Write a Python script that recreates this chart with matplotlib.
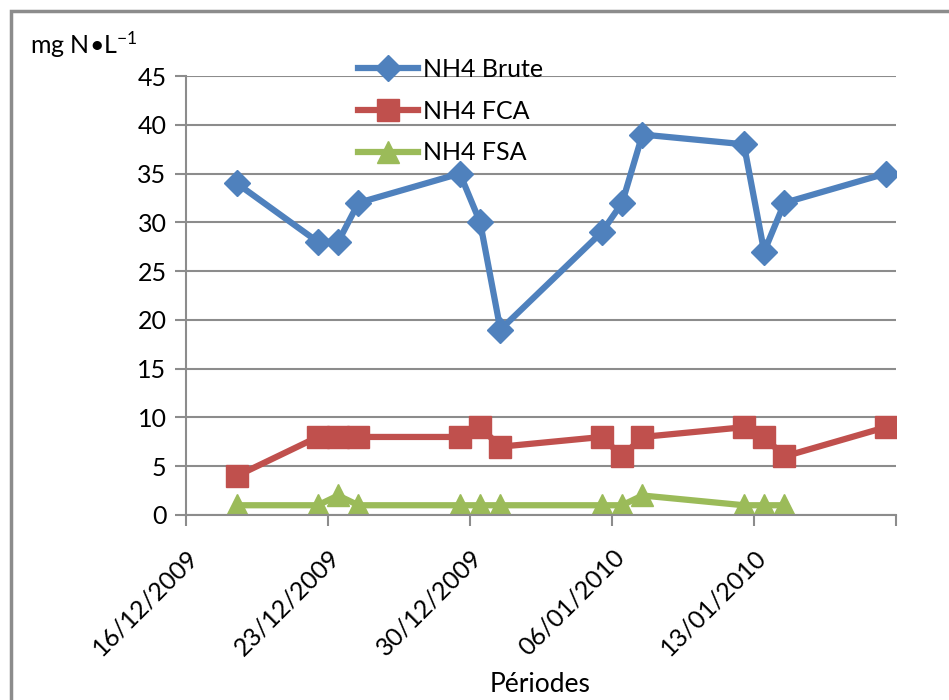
import matplotlib
matplotlib.use("Agg")
import matplotlib.pyplot as plt
from matplotlib.patches import Rectangle
import numpy as np
import datetime as dt

plt.rcParams['font.family'] = ['Lato', 'DejaVu Sans']
plt.rcParams['mathtext.fontset'] = 'custom'
plt.rcParams['mathtext.rm'] = 'Lato'
plt.rcParams['mathtext.default'] = 'rm'

# jours de prélèvement (points placés au milieu de la journée)
jours = ["18/12/2009", "22/12/2009", "23/12/2009", "24/12/2009", "29/12/2009",
         "30/12/2009", "31/12/2009", "05/01/2010", "06/01/2010", "07/01/2010",
         "12/01/2010", "13/01/2010", "14/01/2010", "19/01/2010"]
nh4_brute = [34, 28, 28, 32, 35, 30, 19, 29, 32, 39, 38, 27, 32, 35]
nh4_fca = [4, 8, 8, 8, 8, 9, 7, 8, 6, 8, 9, 8, 6, 9]
nh4_fsa = [1, 1, 2, 1, 1, 1, 1, 1, 1, 2, 1, 1, 1]

graduations = ["16/12/2009", "23/12/2009", "30/12/2009", "06/01/2010", "13/01/2010", "20/01/2010"]

dates = [dt.datetime.strptime(j, "%d/%m/%Y") + dt.timedelta(hours=12) for j in jours]
ticks = [dt.datetime.strptime(g, "%d/%m/%Y") for g in graduations]

fig = plt.figure(figsize=(9.49, 7.0), dpi=100)
ax = fig.add_axes([186/949, 1 - 515/700, (896-186)/949, (515-76)/700])

# cadre du graphique
fig.patches.append(Rectangle((11/949, -0.1), 1.2, 1.1 - 11/700, transform=fig.transFigure,
                             fill=False, edgecolor="#8c8c8c", linewidth=2.5))

ax.plot(dates, nh4_brute, color="#4F81BD", lw=4.5, marker="D", ms=13, label="NH4 Brute")
ax.plot(dates, nh4_fca, color="#C0504D", lw=4.5, marker="s", ms=16, label="NH4 FCA")
ax.plot(dates[:len(nh4_fsa)], nh4_fsa, color="#9BBB59", lw=4.5, marker="^", ms=16, label="NH4 FSA")

ax.set_ylim(0, 45)
ax.set_yticks(np.arange(0, 46, 5))
ax.set_xlim(ticks[0], ticks[-1])
ax.set_xticks(ticks)
ax.set_xticklabels(graduations[:-1] + [""], rotation=45, ha="right", rotation_mode="anchor")

ax.grid(axis="y", color="#8c8c8c", lw=1.5)
ax.set_axisbelow(True)
for s in ["top", "right"]:
    ax.spines[s].set_visible(False)
for s in ["left", "bottom"]:
    ax.spines[s].set_color("#8c8c8c")
    ax.spines[s].set_linewidth(1.5)
ax.tick_params(axis="both", colors="#8c8c8c", width=1.5, length=8, labelsize=18, labelcolor="black")
ax.tick_params(axis="x", pad=14)
ax.tick_params(axis="y", pad=6)

fig.text(30/949, 1 - 45/700, "mg N\u2022L$^{-1}$", fontsize=18, va="center", ha="left")
fig.text(540/949, 1 - 684/700, "Périodes", fontsize=19, va="center", ha="center")

ax.legend(loc="upper left", bbox_to_anchor=(358/949, 1 - 58/700), bbox_transform=fig.transFigure,
          frameon=False, fontsize=18, numpoints=1, handlelength=2.4, handletextpad=0.2,
          labelspacing=0.75, borderpad=0, borderaxespad=0)

fig.savefig("out.png", dpi=100)
